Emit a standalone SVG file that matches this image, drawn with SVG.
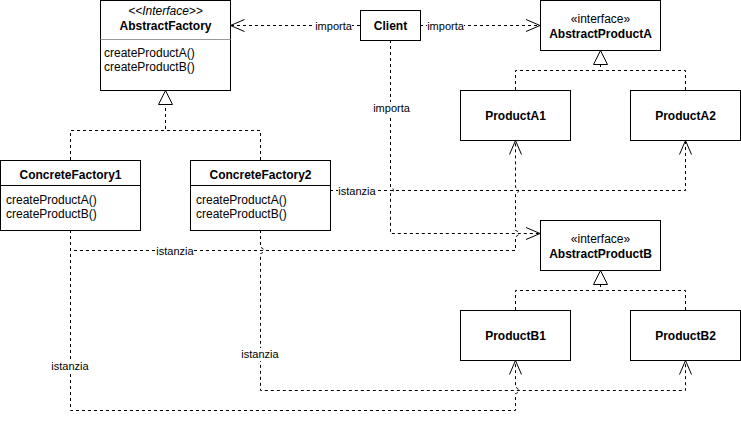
<svg xmlns="http://www.w3.org/2000/svg" width="741" height="425" viewBox="0 0 741 425">
  <style>
    .box { fill: #ffffff; stroke: #000000; stroke-width: 1; }
    .div { stroke: #000000; stroke-width: 1; }
    .t { font-family: "Liberation Sans", Arial, Helvetica, sans-serif; font-size: 12px; fill: #000000; }
    .b { font-weight: bold; text-anchor: middle; }
    .c { text-anchor: middle; }
    .it { font-style: italic; }
    .lbl { font-family: "Liberation Sans", Arial, Helvetica, sans-serif; font-size: 11px; fill: #000000; text-anchor: middle; }
    .lblbg { fill: #ffffff; stroke: none; }
    .conn { fill: none; stroke: #000000; stroke-width: 1; stroke-dasharray: 3 3; }
  </style>
  <defs>
    <marker id="open" viewBox="-16 -8 17 16" refX="0" refY="0" markerWidth="17" markerHeight="16" markerUnits="userSpaceOnUse" orient="auto">
      <path d="M-14,-6 L0,0 L-14,6" fill="none" stroke="#000000" stroke-width="1" stroke-dasharray="none"/>
    </marker>
    <marker id="tri" viewBox="-16 -8 17 16" refX="0" refY="0" markerWidth="17" markerHeight="16" markerUnits="userSpaceOnUse" orient="auto">
      <path d="M-14,-7 L0,0 L-14,7 Z" fill="#ffffff" stroke="#000000" stroke-width="1" stroke-dasharray="none"/>
    </marker>
  </defs>

  <g id="connectors">
    <!-- Client -> AbstractFactory -->
    <path class="conn" d="M360,25.5 L230.5,25.5" marker-end="url(#open)"/>
    <!-- Client -> AbstractProductA -->
    <path class="conn" d="M420,25.5 L540,25.5" marker-end="url(#open)"/>
    <!-- Client -> AbstractProductB -->
    <path class="conn" d="M390.5,40 L390.5,187.5 A3,3 0 0 1 390.5,193.5 L390.5,233.5 L540,233.5" marker-end="url(#open)"/>
    <!-- ConcreteFactory1 realizes AbstractFactory -->
    <path class="conn" d="M70.5,160 L70.5,130.5 L165.5,130.5 L165.5,90.5" marker-end="url(#tri)"/>
    <!-- ConcreteFactory2 realizes AbstractFactory -->
    <path class="conn" d="M260.5,160 L260.5,130.5 L165.5,130.5"/>
    <!-- ProductA1/A2 realize AbstractProductA -->
    <path class="conn" d="M515.5,90 L515.5,70.5 L600.5,70.5 L600.5,50.5" marker-end="url(#tri)"/>
    <path class="conn" d="M685.5,90 L685.5,70.5 L600.5,70.5"/>
    <!-- ProductB1/B2 realize AbstractProductB -->
    <path class="conn" d="M515.5,310 L515.5,290.5 L600.5,290.5 L600.5,270.5" marker-end="url(#tri)"/>
    <path class="conn" d="M685.5,310 L685.5,290.5 L600.5,290.5"/>
    <!-- ConcreteFactory2 -> ProductA2 -->
    <path class="conn" d="M330,190.5 L685.5,190.5 L685.5,140.5" marker-end="url(#open)"/>
    <!-- ConcreteFactory1 -> ProductA1 -->
    <path class="conn" d="M70.5,230 L70.5,250.5 L515.5,250.5 L515.5,236.5 A3,3 0 0 0 515.5,230.5 L515.5,193.5 A3,3 0 0 0 515.5,187.5 L515.5,140.5" marker-end="url(#open)"/>
    <!-- ConcreteFactory1 -> ProductB1 -->
    <path class="conn" d="M70.5,230 L70.5,410.5 L515.5,410.5 L515.5,393.5 A3,3 0 0 0 515.5,387.5 L515.5,360.5" marker-end="url(#open)"/>
    <!-- ConcreteFactory2 -> ProductB2 -->
    <path class="conn" d="M260.5,230 L260.5,247.5 A3,3 0 0 1 260.5,253.5 L260.5,390.5 L685.5,390.5 L685.5,360.5" marker-end="url(#open)"/>

    <!-- labels -->
    <rect class="lblbg" x="315" y="19" width="37" height="13"/>
    <text class="lbl" x="333.5" y="29.5">importa</text>
    <rect class="lblbg" x="427" y="19" width="37" height="13"/>
    <text class="lbl" x="445.5" y="29.5">importa</text>
    <rect class="lblbg" x="373" y="102" width="37" height="13"/>
    <text class="lbl" x="391.5" y="112">importa</text>
    <rect class="lblbg" x="338" y="184" width="38" height="13"/>
    <text class="lbl" x="357" y="194.5">istanzia</text>
    <rect class="lblbg" x="156" y="244" width="38" height="13"/>
    <text class="lbl" x="175" y="254.5">istanzia</text>
    <rect class="lblbg" x="51" y="360" width="38" height="13"/>
    <text class="lbl" x="70" y="370">istanzia</text>
    <rect class="lblbg" x="241" y="348" width="38" height="13"/>
    <text class="lbl" x="260" y="358">istanzia</text>
  </g>

  <g id="AbstractFactory">
    <rect class="box" x="100.5" y="0.5" width="130" height="90"/>
    <line x1="100.5" y1="39.5" x2="230.5" y2="39.5" stroke="#999999" stroke-width="1"/>
    <text class="t c it" x="165.5" y="15">&lt;&lt;Interface&gt;&gt;</text>
    <text class="t b" x="165.5" y="30">AbstractFactory</text>
    <text class="t" x="104" y="57">createProductA()</text>
    <text class="t" x="104" y="71">createProductB()</text>
  </g>

  <g id="Client">
    <rect class="box" x="360.5" y="10.5" width="60" height="30"/>
    <text class="t b" x="390.5" y="29.5">Client</text>
  </g>

  <g id="AbstractProductA">
    <rect class="box" x="540.5" y="0.5" width="120" height="50"/>
    <text class="t c" x="600.5" y="22.5">«interface»</text>
    <text class="t b" x="600.5" y="37.5">AbstractProductA</text>
  </g>

  <g id="ProductA1">
    <rect class="box" x="460.5" y="90.5" width="110" height="50"/>
    <text class="t b" x="515.5" y="119.5">ProductA1</text>
  </g>

  <g id="ProductA2">
    <rect class="box" x="630.5" y="90.5" width="110" height="50"/>
    <text class="t b" x="685.5" y="119.5">ProductA2</text>
  </g>

  <g id="ConcreteFactory1">
    <rect class="box" x="0.5" y="160.5" width="140" height="70"/>
    <line class="div" x1="0.5" y1="185.5" x2="140.5" y2="185.5"/>
    <text class="t b" x="70.5" y="179">ConcreteFactory1</text>
    <text class="t" x="6" y="204">createProductA()</text>
    <text class="t" x="6" y="218">createProductB()</text>
  </g>

  <g id="ConcreteFactory2">
    <rect class="box" x="190.5" y="160.5" width="140" height="70"/>
    <line class="div" x1="190.5" y1="185.5" x2="330.5" y2="185.5"/>
    <text class="t b" x="260.5" y="179">ConcreteFactory2</text>
    <text class="t" x="196" y="204">createProductA()</text>
    <text class="t" x="196" y="218">createProductB()</text>
  </g>

  <g id="AbstractProductB">
    <rect class="box" x="540.5" y="220.5" width="120" height="50"/>
    <text class="t c" x="600.5" y="242.5">«interface»</text>
    <text class="t b" x="600.5" y="257.5">AbstractProductB</text>
  </g>

  <g id="ProductB1">
    <rect class="box" x="460.5" y="310.5" width="110" height="50"/>
    <text class="t b" x="515.5" y="339.5">ProductB1</text>
  </g>

  <g id="ProductB2">
    <rect class="box" x="630.5" y="310.5" width="110" height="50"/>
    <text class="t b" x="685.5" y="339.5">ProductB2</text>
  </g>
</svg>
